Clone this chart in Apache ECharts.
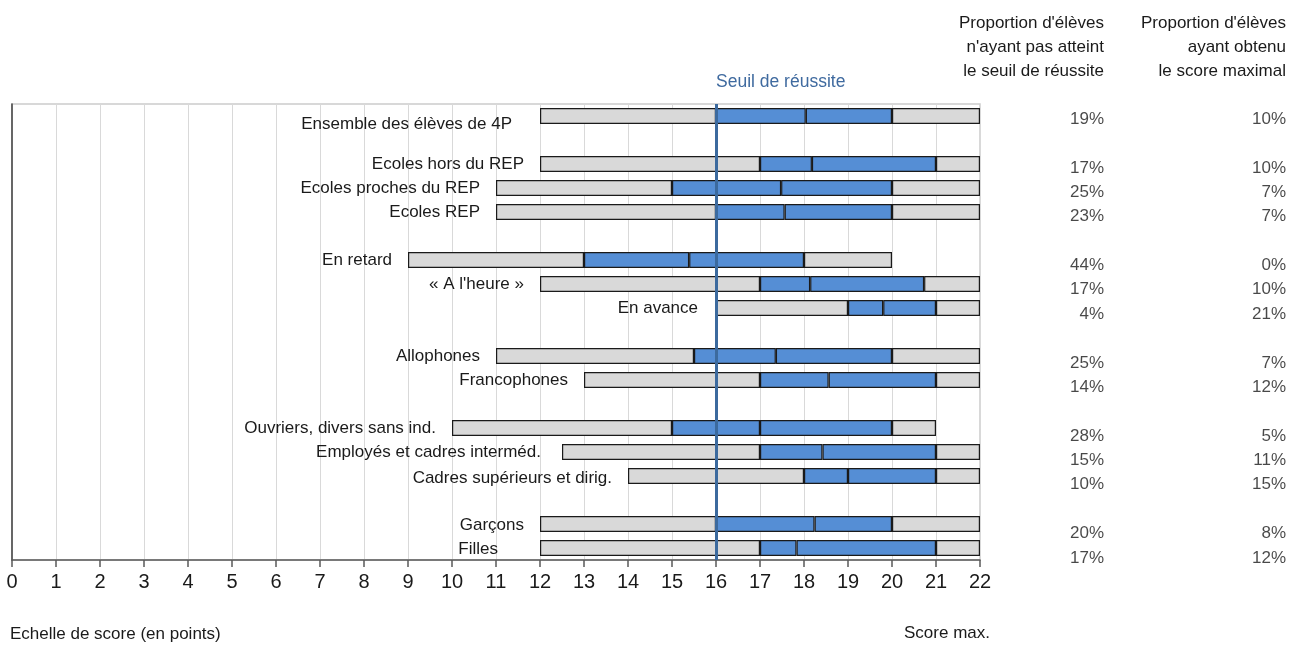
<!DOCTYPE html>
<html><head><meta charset="utf-8">
<script src="https://cdn.jsdelivr.net/npm/echarts@6/dist/echarts.min.js"></script>
<style>html,body{margin:0;padding:0;background:#fff}#c{width:1300px;height:646px}</style>
</head><body><div id="c"></div>
<script>
// ---- data ----
const categories = ['Ensemble des élèves de 4P', '', 'Ecoles hors du REP', 'Ecoles proches du REP', 'Ecoles REP', '',
  'En retard', '« A l\'heure »', 'En avance', '', 'Allophones', 'Francophones', '',
  'Ouvriers, divers sans ind.', 'Employés et cadres interméd.', 'Cadres supérieurs et dirig.', '', 'Garçons', 'Filles'];
const scoreMin  = [12, null, 12, 11, 11, null, 9, 12, 16, null, 11, 13, null, 10, 12.5, 14, null, 12, 12];
const scoreLow  = [16, null, 17, 15, 16, null, 13, 17, 19, null, 15.5, 17, null, 15, 17, 18, null, 16, 17];
const scoreMed  = [18.04, null, 18.18, 17.48, 17.56, null, 15.39, 18.14, 19.8, null, 17.36, 18.56, null, 17, 18.42, 19, null, 18.24, 17.83];
const scoreHigh = [20, null, 21, 20, 20, null, 18, 20.73, 21, null, 20, 21, null, 20, 21, 21, null, 20, 21];
const scoreMax  = [22, null, 22, 22, 22, null, 20, 22, 22, null, 22, 22, null, 21, 22, 22, null, 22, 22];
const pctBelow   = [19, null, 17, 25, 23, null, 44, 17, 4, null, 25, 14, null, 28, 15, 10, null, 20, 17];
const pctMaximal = [10, null, 10, 7, 7, null, 0, 10, 21, null, 7, 12, null, 5, 11, 15, null, 8, 12];
const colHeaders = ["Proportion d'élèves\nn'ayant pas atteint\nle seuil de réussite", "Proportion d'élèves\nayant obtenu\nle score maximal"];
const threshold = 16;
const thresholdLabel = 'Seuil de réussite';
const axisTitle = 'Echelle de score (en points)';
const maxTitle = 'Score max.';

// ---- styles ----
const FONT = "'Liberation Sans', Arial, sans-serif";
const TXT = '#1a1a1a';
const GRAY = '#d9d9d9';
const BLUE = '#558ed5';
const EDGE = '#1a1a1a';
const labelNudge = {0: [-12, 8], 8: [-2, 0], 14: [-5, 0], 15: [0, 2], 17: [0, 1], 18: [-26, 1]};

const diff = (a, b) => a.map((v, i) => (v == null || b[i] == null) ? '-' : +(v - b[i]).toFixed(3));
const segOffset = scoreMin.map(v => v == null ? '-' : v);
const segGray1 = diff(scoreLow, scoreMin);
const segBlue1 = diff(scoreMed, scoreLow);
const segBlue2 = diff(scoreHigh, scoreMed);
const segGray2 = diff(scoreMax, scoreHigh);

function seg(name, data, color, extra) {
  return Object.assign({
    name, type: 'bar', stack: 'box', barWidth: 16, xAxisIndex: 0, yAxisIndex: 0,
    data, silent: true,
    itemStyle: {color, borderColor: EDGE, borderWidth: 1.2}
  }, extra || {});
}

const gray1Data = segGray1.map((v, i) => {
  if (v === '-') return '-';
  const n = labelNudge[i] || [0, 0];
  return {value: v, label: {offset: n}};
});

const pctSeries = (arr, col) => ({
  type: 'scatter', xAxisIndex: 1, yAxisIndex: 1, symbolSize: 0, silent: true,
  data: arr.map((v, i) => v == null ? null : {value: [col, i], pct: v}).filter(d => d),
  label: {show: true, position: 'left', distance: 0, fontSize: 17, fontFamily: FONT, color: TXT,
    formatter: p => p.data.pct + '%'}
});

const chart = echarts.init(document.getElementById('c'), null, {renderer: 'canvas'});
chart.setOption({
  animation: false,
  backgroundColor: '#fff',
  textStyle: {fontFamily: FONT},
  grid: [
    {left: 12, right: 320, top: 104, height: 456, show: true, borderColor: '#cccccc', borderWidth: 1.5},
    {left: 1104, right: 14, top: 107, height: 463}
  ],
  xAxis: [
    {type: 'value', gridIndex: 0, min: 0, max: 22, interval: 1,
      axisLine: {show: true, onZero: false, lineStyle: {color: '#595959', width: 1.5}},
      axisTick: {show: true, length: 7, lineStyle: {color: '#595959', width: 1.5}},
      axisLabel: {fontSize: 20, color: TXT, margin: 12, fontFamily: FONT},
      splitLine: {show: true, lineStyle: {color: '#d9d9d9', width: 1}}},
    {type: 'category', gridIndex: 1, position: 'top', boundaryGap: false, data: colHeaders,
      axisLine: {show: false}, axisTick: {show: false}, splitLine: {show: false},
      axisLabel: {fontSize: 17, color: TXT, align: 'right', lineHeight: 24, margin: 24, fontFamily: FONT, interval: 0}}
  ],
  yAxis: [
    {type: 'category', gridIndex: 0, inverse: true, data: categories,
      axisLine: {show: true, lineStyle: {color: '#404040', width: 1.5}},
      axisTick: {show: false}, axisLabel: {show: false}, splitLine: {show: false}},
    {type: 'category', gridIndex: 1, inverse: true, data: categories,
      axisLine: {show: false}, axisTick: {show: false}, axisLabel: {show: false}, splitLine: {show: false}}
  ],
  series: [
    seg('offset', segOffset, 'transparent', {itemStyle: {color: 'transparent', borderWidth: 0}}),
    seg('gray1', gray1Data, GRAY, {
      label: {show: true, position: 'left', distance: 16, fontSize: 17, color: TXT, fontFamily: FONT,
        formatter: p => categories[p.dataIndex]}
    }),
    seg('blue1', segBlue1, BLUE),
    seg('blue2', segBlue2, BLUE),
    seg('gray2', segGray2, GRAY, {
      markLine: {silent: true, symbol: 'none', z: 10,
        lineStyle: {color: '#3c6a9e', width: 3, type: 'solid'},
        label: {show: false}, data: [{xAxis: threshold}]}
    }),
    pctSeries(pctBelow, 0),
    pctSeries(pctMaximal, 1)
  ]
});

const tx = chart.convertToPixel({xAxisIndex: 0}, threshold);
const xMaxPx = chart.convertToPixel({xAxisIndex: 0}, 22);
chart.setOption({
  graphic: [
    {type: 'text', left: tx, top: 73, style: {text: thresholdLabel, fill: '#3f6a9f', font: "17.5px 'Liberation Sans', Arial"}},
    {type: 'text', left: 10, top: 626, style: {text: axisTitle, fill: TXT, font: "17px 'Liberation Sans', Arial"}},
    {type: 'text', right: 1300 - xMaxPx - 10, top: 625, style: {text: maxTitle, fill: TXT, font: "17px 'Liberation Sans', Arial"}}
  ]
});
</script>
</body></html>
